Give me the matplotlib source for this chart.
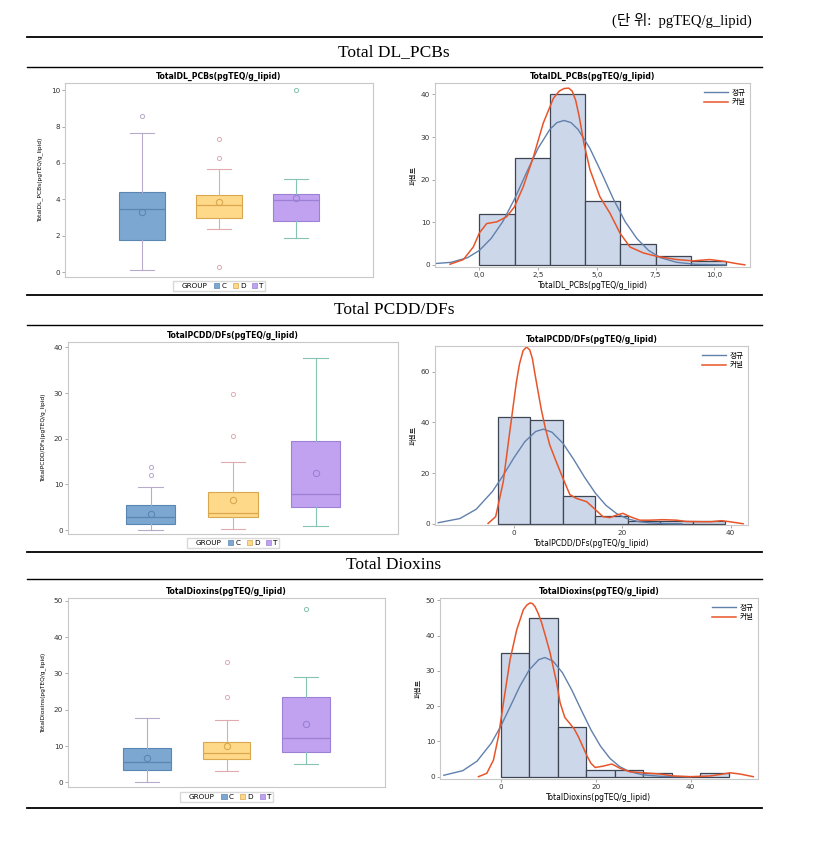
import matplotlib
matplotlib.use("Agg")
import matplotlib.pyplot as plt
from matplotlib.lines import Line2D
from matplotlib.patches import Patch
import numpy as np

plt.rcParams['font.family'] = ['DejaVu Sans', 'Noto Sans CJK KR']

W, H = 816, 847

# ---- data ----
GROUPS = ['C', 'D', 'T']

PCB_LOW = [0.15, 2.35, 1.89]
PCB_Q1 = [1.76, 3.0, 2.83]
PCB_MED = [3.5, 3.72, 3.96]
PCB_MEAN = [3.3, 3.83, 4.05]
PCB_Q3 = [4.42, 4.24, 4.28]
PCB_HIGH = [7.63, 5.65, 5.1]
PCB_OUT = [[8.6], [7.32, 6.26, 0.3], [10.0]]

PCDD_LOW = [0.0, 0.3, 0.9]
PCDD_Q1 = [1.3, 2.8, 5.0]
PCDD_MED = [2.8, 3.7, 7.85]
PCDD_MEAN = [3.6, 6.5, 12.4]
PCDD_Q3 = [5.45, 8.3, 19.5]
PCDD_HIGH = [9.5, 14.8, 37.7]
PCDD_OUT = [[12.0, 13.9], [20.5, 29.9], []]

DIOX_LOW = [0.1, 3.1, 5.05]
DIOX_Q1 = [3.4, 6.4, 8.4]
DIOX_MED = [5.6, 8.1, 12.2]
DIOX_MEAN = [6.7, 9.9, 16.2]
DIOX_Q3 = [9.5, 11.1, 23.5]
DIOX_HIGH = [17.7, 17.2, 29.0]
DIOX_OUT = [[], [23.5, 33.1], [47.8]]

PCB_EDGES = [0, 1.5, 3.0, 4.5, 6.0, 7.5, 9.0, 10.5]
PCB_PCT = [12, 25, 40, 15, 5, 2, 1]
PCDD_EDGES = [-3, 3, 9, 15, 21, 27, 33, 39]
PCDD_PCT = [42, 41, 11, 3, 1, 1, 1]
DIOX_EDGES = [0, 6, 12, 18, 24, 30, 36, 42, 48]
DIOX_PCT = [35, 45, 14, 2, 2, 1, 0, 1]

PCB_NORM_X = [-1.9, -1.2, -0.5, 0, 0.5, 1, 1.5, 2, 2.5, 3, 3.3, 3.6, 3.9, 4.2, 4.7,
              5.2, 5.7, 6.2, 6.7, 7.2, 7.7, 8.4, 9.2, 10.5]
PCB_NORM_Y = [0.3, 0.6, 1.7, 3.4, 6.2, 10.2, 15.5, 21.6, 27.4, 31.8, 33.4, 33.9, 33.4,
              31.8, 27.4, 21.6, 15.5, 10.2, 6.2, 3.4, 1.7, 0.6, 0.13, 0.0]
PCB_KDE_X = [-1.25, -0.68, -0.26, 0, 0.31, 0.74, 1.16, 1.49, 1.87, 2.3, 2.72, 3.15,
             3.4, 3.6, 3.8, 3.95, 4.1, 4.25, 4.45, 4.71, 5.13, 5.56, 5.99, 6.41,
             6.98, 7.55, 8.4, 9.1, 9.8, 10.38, 10.95, 11.3]
PCB_KDE_Y = [0.15, 1.25, 4.2, 7.5, 9.7, 10.1, 11.3, 13.6, 18.4, 25.4, 33.3, 39.1,
             40.8, 41.4, 41.5, 40.8, 38.6, 34.8, 28.5, 22.3, 16.0, 12.1, 7.4, 4.2,
             2.8, 2.0, 1.25, 0.94, 1.25, 0.86, 0.3, 0.0]

PCDD_NORM_X = [-14, -10, -7, -4, -2, 0, 2, 4, 5.4, 7, 9, 11, 13, 15, 17, 19, 21,
               23, 25, 28, 31]
PCDD_NORM_Y = [0.4, 2.05, 5.7, 12.7, 19.1, 26.1, 32.4, 36.4, 37.3, 36.1, 31.8, 25.4,
               18.4, 12.1, 7.2, 3.9, 1.9, 0.85, 0.34, 0.06, 0.0]
PCDD_KDE_X = [-4.8, -3.4, -2.0, -0.8, 0.43, 1.0, 1.66, 2.28, 2.89, 3.4, 3.8, 4.4,
              5.05, 5.8, 6.6, 7.8, 9.05, 10.3, 11.5, 13.4, 14.9, 16.4, 17.7, 18.9,
              20.1, 21.4, 23.2, 25.0, 27.5, 30.0, 31.8, 34.3, 36.4, 38.3, 39.8, 42.3]
PCDD_KDE_Y = [0.1, 2.8, 16.5, 36.2, 55.9, 63.0, 68.2, 69.7, 68.6, 65.0, 59.8, 52.5,
              44.8, 37.5, 31.0, 24.4, 17.8, 11.5, 10.0, 8.7, 5.8, 2.8, 2.4, 3.4,
              4.1, 2.8, 1.4, 1.4, 1.6, 1.4, 0.9, 0.8, 0.8, 1.2, 0.8, 0.0]

DIOX_NORM_X = [-12, -8, -5, -2, 0, 2, 4, 6, 8, 9.3, 11, 13, 15, 17, 19, 21, 23, 25,
               27, 30, 34, 40]
DIOX_NORM_Y = [0.4, 1.7, 4.4, 9.5, 14.3, 19.9, 25.6, 30.3, 33.2, 33.8, 32.8, 29.5,
               24.5, 18.8, 13.3, 8.7, 5.2, 2.9, 1.5, 0.5, 0.08, 0.0]
DIOX_KDE_X = [-4.7, -2.95, -1.54, -0.49, 0.56, 1.96, 3.37, 4.77, 5.5, 6.18, 6.7, 7.2,
              7.9, 8.63, 9.5, 10.4, 11.1, 11.8, 12.5, 13.5, 14.6, 15.5, 16.4, 17.3,
              18.2, 19.0, 19.9, 21.6, 23.4, 25.1, 27.2, 30.0, 33.5, 36.4, 39.9, 44.1,
              46.9, 48.3, 50.4, 53.2]
DIOX_KDE_Y = [0.0, 0.95, 4.7, 11.4, 20.9, 33.2, 41.7, 47.4, 48.7, 49.3, 49.1, 48.3,
              46.3, 43.6, 39.5, 35.1, 30.8, 26.5, 21.0, 16.8, 15.0, 13.5, 11.2, 8.5,
              5.8, 3.8, 2.6, 3.0, 3.6, 2.4, 1.4, 1.1, 0.76, 0.2, 0.0, 0.2, 0.76, 1.1,
              0.76, 0.0]

BOX_FILL = ['#7BA7D0', '#FFD98A', '#C0A2F0']
BOX_EDGE = ['#5A86B4', '#D9A84E', '#9C80D6']
WHISK = ['#B8AACB', '#E2A9B3', '#86C3B2']
FRAME = '#C8C8C8'


def rect(l, t, r, b):
    return [l / W, 1 - b / H, (r - l) / W, (b - t) / H]


def style_axes(ax):
    for s in ax.spines.values():
        s.set_color(FRAME)
        s.set_linewidth(0.8)
    ax.tick_params(labelsize=5.2, colors='#888888', labelcolor='#333333',
                   length=2, width=0.5, pad=1.5)


def boxpanel(box, title, ylabel, low, q1, med, mean, q3, high, outs, ylim, yticks, legy):
    ax = fig.add_axes(rect(*box))
    for i in range(3):
        st = dict(whislo=low[i], q1=q1[i], med=med[i], mean=mean[i],
                  q3=q3[i], whishi=high[i], fliers=outs[i])
        ax.bxp([st], positions=[i + 1], widths=0.6, patch_artist=True,
               showmeans=True, meanline=False,
               boxprops=dict(facecolor=BOX_FILL[i], edgecolor=BOX_EDGE[i], lw=0.8),
               medianprops=dict(color=BOX_EDGE[i], lw=0.9),
               whiskerprops=dict(color=WHISK[i], lw=0.8),
               capprops=dict(color=WHISK[i], lw=0.8),
               capwidths=0.3,
               meanprops=dict(marker='o', markerfacecolor='none',
                              markeredgecolor=BOX_EDGE[i], markersize=4.5, mew=0.8),
               flierprops=dict(marker='o', markerfacecolor='none',
                               markeredgecolor=WHISK[i], markersize=3, mew=0.7))
    ax.set_xlim(0, 4)
    ax.set_ylim(*ylim)
    ax.set_yticks(yticks)
    ax.set_xticks([])
    style_axes(ax)
    ax.set_title(title, fontsize=5.6, fontweight='bold', pad=3)
    ax.set_ylabel(ylabel, fontsize=4.2, labelpad=6)
    handles = [Line2D([], [], linestyle='none')]
    handles += [Patch(facecolor=BOX_FILL[i], edgecolor=BOX_EDGE[i], lw=0.5) for i in range(3)]
    cx = (box[0] + box[2]) / 2
    fig.legend(handles, ['GROUP'] + GROUPS, ncol=4, loc='center',
               bbox_to_anchor=(cx / W, 1 - legy / H), fontsize=5.2, frameon=True,
               fancybox=False, edgecolor='#D0D0D0', handlelength=0.7, handleheight=0.7,
               handletextpad=0.3, columnspacing=0.9, borderpad=0.25)
    return ax


def histpanel(box, title, xlabel, edges, pct, nx, ny, kx, ky, xlim, ylim, xticks, xticklabels, yticks):
    ax = fig.add_axes(rect(*box))
    ax.bar(edges[:-1], pct, width=np.diff(edges), align='edge', color='#CCD7E9',
           edgecolor='#3E4654', lw=0.9)
    ax.plot(nx, ny, color='#6180AC', lw=1.0, label='정규')
    ax.plot(kx, ky, color='#E8552A', lw=1.1, label='커널')
    ax.set_xlim(*xlim)
    ax.set_ylim(*ylim)
    ax.set_xticks(xticks)
    ax.set_xticklabels(xticklabels)
    ax.set_yticks(yticks)
    style_axes(ax)
    ax.set_title(title, fontsize=5.6, fontweight='bold', pad=3)
    ax.set_xlabel(xlabel, fontsize=5.5, labelpad=2)
    ax.set_ylabel('퍼센트', fontsize=5, labelpad=3)
    ax.legend(loc='upper right', fontsize=5.5, frameon=False, handlelength=3.2,
              labelspacing=0.1, borderaxespad=0.2, handletextpad=0.4)
    return ax


fig = plt.figure(figsize=(W / 100, H / 100), dpi=100)

serif = ['Liberation Serif', 'Noto Sans CJK KR']
fig.text(752 / W, 1 - 20 / H, '(단 위:  pgTEQ/g_lipid)', ha='right', va='center',
         fontsize=10.5, family=serif)

for y, lw in [(37, 1.3), (67, 1.0), (295, 1.3), (325, 1.0), (552, 1.3), (579, 1.0), (808, 1.3)]:
    fig.add_artist(Line2D([27 / W, 762 / W], [1 - y / H, 1 - y / H], color='black', lw=lw))

for y, txt in [(52, 'Total DL_PCBs'), (310, 'Total PCDD/DFs'), (565, 'Total Dioxins')]:
    fig.text(394 / W, 1 - y / H, txt, ha='center', va='center', fontsize=12.5,
             family=serif)

boxpanel((65, 83, 373, 277), 'TotalDL_PCBs(pgTEQ/g_lipid)', 'TotalDL_PCBs(pgTEQ/g_lipid)',
         PCB_LOW, PCB_Q1, PCB_MED, PCB_MEAN, PCB_Q3, PCB_HIGH, PCB_OUT,
         (-0.26, 10.39), [0, 2, 4, 6, 8, 10], 286)
boxpanel((68, 342, 398, 534), 'TotalPCDD/DFs(pgTEQ/g_lipid)', 'TotalPCDD/DFs(pgTEQ/g_lipid)',
         PCDD_LOW, PCDD_Q1, PCDD_MED, PCDD_MEAN, PCDD_Q3, PCDD_HIGH, PCDD_OUT,
         (-0.87, 41.2), [0, 10, 20, 30, 40], 543)
boxpanel((68, 598, 385, 787), 'TotalDioxins(pgTEQ/g_lipid)', 'TotalDioxins(pgTEQ/g_lipid)',
         DIOX_LOW, DIOX_Q1, DIOX_MED, DIOX_MEAN, DIOX_Q3, DIOX_HIGH, DIOX_OUT,
         (-1.29, 50.8), [0, 10, 20, 30, 40, 50], 797)

histpanel((435, 83, 750, 267), 'TotalDL_PCBs(pgTEQ/g_lipid)', 'TotalDL_PCBs(pgTEQ/g_lipid)',
          PCB_EDGES, PCB_PCT, PCB_NORM_X, PCB_NORM_Y, PCB_KDE_X, PCB_KDE_Y,
          (-1.89, 11.52), (-0.5, 42.7), [0, 2.5, 5, 7.5, 10],
          ['0,0', '2,5', '5,0', '7,5', '10,0'], [0, 10, 20, 30, 40])
histpanel((435, 346, 748, 525), 'TotalPCDD/DFs(pgTEQ/g_lipid)', 'TotalPCDD/DFs(pgTEQ/g_lipid)',
          PCDD_EDGES, PCDD_PCT, PCDD_NORM_X, PCDD_NORM_Y, PCDD_KDE_X, PCDD_KDE_Y,
          (-14.6, 43.2), (-0.5, 70.1), [0, 20, 40], ['0', '20', '40'], [0, 20, 40, 60])
histpanel((440, 598, 758, 779), 'TotalDioxins(pgTEQ/g_lipid)', 'TotalDioxins(pgTEQ/g_lipid)',
          DIOX_EDGES, DIOX_PCT, DIOX_NORM_X, DIOX_NORM_Y, DIOX_KDE_X, DIOX_KDE_Y,
          (-12.8, 54.2), (-0.66, 50.7), [0, 20, 40], ['0', '20', '40'],
          [0, 10, 20, 30, 40, 50])

fig.savefig('out.png', dpi=100)
